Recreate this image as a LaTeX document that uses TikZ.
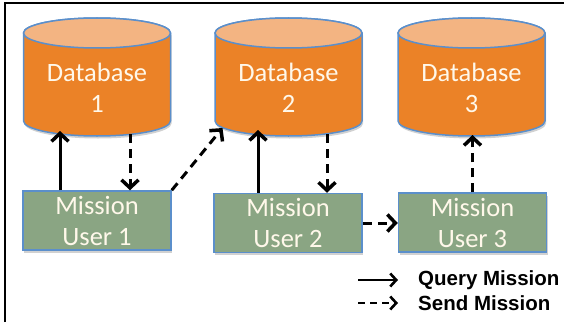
\documentclass[tikz,border=0pt]{standalone}
\usepackage{fontspec}
\newfontfamily\calibri{Carlito}
\newfontfamily\arialfont{Liberation Sans}
\usetikzlibrary{arrows.meta,shadows,calc}

\definecolor{dborange}{HTML}{EB8227}
\definecolor{dbtopc}{HTML}{F3B482}
\definecolor{edgeblue}{HTML}{5B8FCB}
\definecolor{usergreen}{HTML}{8AA583}
\definecolor{labelwhite}{HTML}{FFF8EA}

% database cylinder: #1 name, #2 x of the axis, #3 number
\newcommand\dbcylinder[3]{%
  \path[dbbody] ({#2-73.5},289) -- ({#2-73.5},201)
    arc[start angle=180,end angle=360,x radius=73.5,y radius=15]
    -- ({#2+73.5},289)
    arc[start angle=0,end angle=180,x radius=73.5,y radius=15] -- cycle;
  \draw[dbtop] (#2,289) ellipse[x radius=73.5,y radius=15];
  \coordinate (#1-b) at (#2,201);
  \node[dblabel] (#1) at (#2,234.5) {Database\\#3};
}

\begin{document}
\begin{tikzpicture}[x=1pt,y=1pt,
  softshadow/.style={drop shadow={shadow xshift=1pt,shadow yshift=-2.5pt,opacity=0.3,fill=black!60}},
  dbbody/.style={fill=dborange,draw=edgeblue,line width=1.5pt,softshadow},
  dbtop/.style={fill=dbtopc,draw=edgeblue,line width=1.5pt},
  dblabel/.style={font=\calibri\fontsize{26.5}{31}\selectfont,text=labelwhite,align=center,inner sep=0pt},
  userbox/.style={draw=edgeblue,fill=usergreen,line width=1.5pt,minimum width=148pt,minimum height=59pt,
    inner sep=0pt,align=center,font=\calibri\fontsize{26.5}{31}\selectfont,text=labelwhite,softshadow},
  query/.style={line width=3pt,-{Straight Barb[length=8pt,width=17pt,line width=3.5pt]}},
  send/.style={query,dash pattern=on 9pt off 6pt},
  legquery/.style={line width=2pt,-{Straight Barb[length=6pt,width=13pt,line width=2.6pt]}},
  legsend/.style={legquery,dash pattern=on 7pt off 5pt},
  legendtext/.style={font=\arialfont\bfseries\fontsize{20.5}{24}\selectfont,inner sep=0pt,anchor=west}
]
\useasboundingbox (0,0) rectangle (564,322);

% frame
\draw[line width=2.5pt] (5,0) -- (5,319) -- (564,319);

% databases
\dbcylinder{db1}{97}{1}
\dbcylinder{db2}{288.5}{2}
\dbcylinder{db3}{471.5}{3}

% mission users
\node[userbox] (mu1) at (97,101.5) {Mission\\User 1};
\node[userbox] (mu2) at (288,99) {Mission\\User 2};
\node[userbox] (mu3) at (472.5,99.5) {Mission\\User 3};

% connectors
\draw[query] ([xshift=-37pt]mu1.north) -- ([xshift=-37pt,yshift=-10pt]db1-b);
\draw[send] ([xshift=33pt,yshift=-13pt]db1-b) -- ([xshift=33pt]mu1.north);
\draw[send] (mu1.north east) -- ([xshift=-66pt,yshift=-7pt]db2-b);
\draw[query] ([xshift=-30pt]mu2.north) -- ([xshift=-30.5pt,yshift=-9pt]db2-b);
\draw[send] ([xshift=38.5pt,yshift=-13pt]db2-b) -- ([xshift=39pt]mu2.north);
\draw[send] (mu2.east) -- (mu3.west |- mu2.east);
\draw[send] (mu3.north) -- ([xshift=1pt,yshift=-14pt]db3-b);

% legend
\node[legendtext] (lq) at (418,42) {Query Mission};
\node[legendtext] (ls) at (418,19) {Send Mission};
\coordinate (lqs) at (358,42);
\coordinate (lss) at (358,19);
\draw[legquery] (lqs) -- ([xshift=-20pt]lq.west);
\draw[legsend] (lss) -- ([xshift=-20pt]ls.west);
\end{tikzpicture}
\end{document}
